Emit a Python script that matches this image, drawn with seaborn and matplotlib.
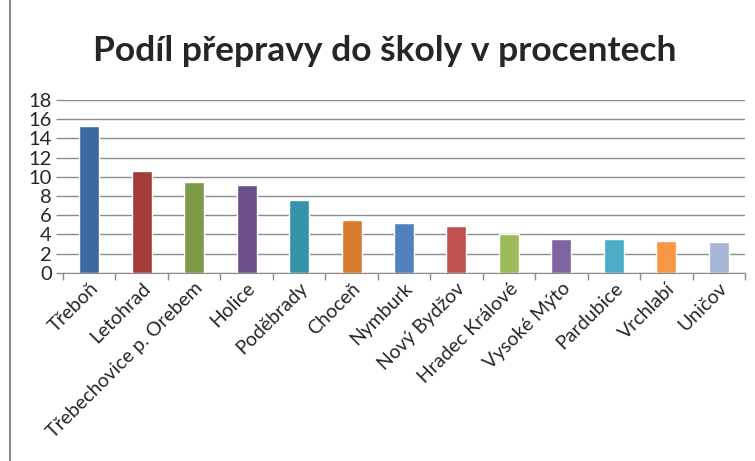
import pandas as pd
import seaborn as sns
import matplotlib.pyplot as plt
from matplotlib.lines import Line2D

# data
mesta = ["Třeboň", "Letohrad", "Třebechovice p. Orebem", "Holice", "Poděbrady",
         "Choceň", "Nymburk", "Nový Bydžov", "Hradec Králové", "Vysoké Mýto",
         "Pardubice", "Vrchlabí", "Uničov"]
podil = [15.3, 10.6, 9.5, 9.1, 7.6, 5.5, 5.2, 4.9, 4.0, 3.5, 3.5, 3.3, 3.2]
barvy = ["#3C6AA0", "#A33B3A", "#7D9A48", "#6A4F8B", "#3694A8", "#D67C2E",
         "#4F81BD", "#C0504D", "#9BBB59", "#8064A2", "#4BACC6", "#F79646", "#A5B5D6"]
y_ticks = list(range(0, 19, 2))

df = pd.DataFrame({"mesto": mesta, "podil": podil})

sns.set_style("white")
plt.rcParams["font.family"] = ["Lato", "DejaVu Sans"]

fig = plt.figure(figsize=(7.55, 4.61), dpi=100)
ax = fig.add_axes([63 / 755, 1 - 272.7 / 461, (745 - 63) / 755, 172.7 / 461])

sns.barplot(data=df, x="mesto", y="podil", hue="mesto", palette=barvy,
            width=0.38, legend=False, ax=ax, saturation=1)

ax.set_ylim(0, 18)
ax.set_yticks(y_ticks)
ax.set_xlim(-0.5, len(mesta) - 0.5)
ax.yaxis.grid(True, color="#8c8c8c", linewidth=1)
ax.set_axisbelow(True)
for s in ["top", "right", "left"]:
    ax.spines[s].set_visible(False)
ax.spines["bottom"].set_color("#8c8c8c")
ax.set_xlabel("")
ax.set_ylabel("")

# category separator ticks on the x axis
ax.set_xticks([i - 0.5 for i in range(len(mesta) + 1)], minor=True)
ax.tick_params(axis="x", which="minor", length=5, color="#8c8c8c", width=1, bottom=True)
ax.tick_params(axis="x", which="major", length=0, pad=5)
ax.tick_params(axis="y", length=5, color="#8c8c8c", width=1, left=True, labelsize=14.5, pad=3)
ax.set_xticks(range(len(mesta)))
ax.set_xticklabels(mesta, rotation=45, ha="right", rotation_mode="anchor", fontsize=14)

fig.suptitle("Podíl přepravy do školy v procentech", x=0.51, y=0.925,
             fontsize=25.5, fontweight="bold")

# chart frame on the left edge
fig.add_artist(Line2D([10 / 755, 10 / 755], [0, 1], color="#8c8c8c", linewidth=1.5))

fig.savefig("out.png", dpi=100)
